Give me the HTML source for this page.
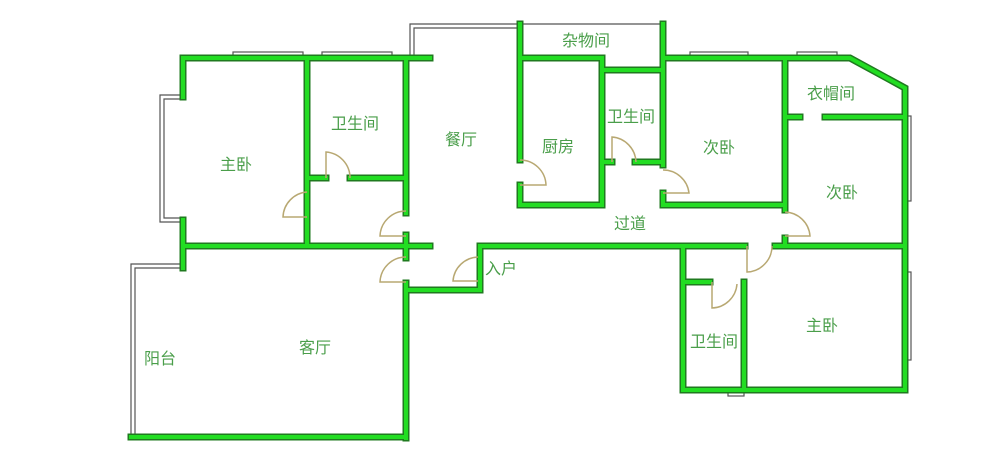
<!DOCTYPE html>
<html><head><meta charset="utf-8"><style>
html,body{margin:0;padding:0;background:#fff;}
svg{display:block}
text{font-family:"Liberation Sans","Noto Sans CJK SC",sans-serif;font-size:16px;fill:#4a9e4a;}
</style></head><body>
<svg width="1000" height="459" viewBox="0 0 1000 459" xmlns="http://www.w3.org/2000/svg">
<g fill="none" stroke="#555" stroke-width="1.2">
<polyline points="183,95 160,95 160,222 183,222"/>
<polyline points="183,99 164,99 164,218 183,218"/>
<polyline points="183,264 131,264 131,438"/>
<polyline points="183,268 135,268 135,436"/>
<polyline points="410,58 410,24 520,24"/>
<polyline points="414,58 414,28 520,28"/>
<line x1="520" y1="24" x2="663" y2="24"/>
<rect x="233" y="52" width="70" height="6"/><rect x="322" y="52" width="70" height="6"/>
<rect x="690" y="52" width="58" height="6"/><rect x="797" y="52" width="40" height="6"/>
<rect x="905" y="116" width="6" height="85"/><rect x="905" y="272" width="6" height="88"/>
<rect x="728" y="388" width="16" height="8"/>
</g>
<g fill="#888"><rect x="540" y="56" width="40" height="3"/><rect x="617" y="68" width="30" height="3"/></g>
<defs>
<path id="p" d="M183,58 H430 M183,58 V97 M183,220 V268 M307,58 V246 M307,178 H326 M350,178 H406
M406,58 V213 M406,235 V258 M406,283 V438 M131,437 H406 M406,290 H480 M480,248 V290
M183,246 H430 M480,246 H745 M775,246 H905
M520,58 H602 M520,24 V160 M520,185 V205 M520,205 H602 M602,58 V205 M602,70 H663 M663,24 V165 M663,193 V205 M602,162 H612 M635,162 H663
M663,205 H785 M663,58 H850 L905,88 V390 M785,58 V210 M785,238 V246 M785,117 H800 M825,117 H905
M683,246 V390 H905 M683,282 H710 M744,282 V390"/>
</defs>
<use href="#p" stroke="#1f7a1f" stroke-width="7" fill="none" stroke-linecap="square"/>
<use href="#p" stroke="#22dd22" stroke-width="4" fill="none" stroke-linecap="square"/>
<g fill="none" stroke="#b8a872" stroke-width="1.5">
<path d="M326,178 V152 A26,26 0 0 1 350,178"/>
<path d="M307,192 A26,26 0 0 0 283,217 H307"/>
<path d="M406,211 A26,26 0 0 0 380,236 H406"/>
<path d="M406,257 A26,26 0 0 0 380,282 H406"/>
<path d="M478,257 A26,26 0 0 0 453,281 H478"/>
<path d="M520,160 A26,26 0 0 1 546,185 H520"/>
<path d="M612,162 V137 A26,26 0 0 1 636,162"/>
<path d="M663,170 A26,26 0 0 1 689,193 H663"/>
<path d="M785,212 A26,26 0 0 1 810,236 H785"/>
<path d="M747,246 V272 A26,26 0 0 0 772,246"/>
<path d="M712,282 V308 A26,26 0 0 0 737,284"/>
</g>
<text x="220" y="170">主卧</text>
<text x="331" y="129">卫生间</text>
<text x="445" y="145">餐厅</text>
<text x="562" y="46">杂物间</text>
<text x="542" y="152">厨房</text>
<text x="607" y="122">卫生间</text>
<text x="703" y="153">次卧</text>
<text x="807" y="99">衣帽间</text>
<text x="826" y="198">次卧</text>
<text x="614" y="229">过道</text>
<text x="485" y="274">入户</text>
<text x="299" y="353">客厅</text>
<text x="144" y="364">阳台</text>
<text x="690" y="347">卫生间</text>
<text x="806" y="331">主卧</text>
</svg>
</body></html>
